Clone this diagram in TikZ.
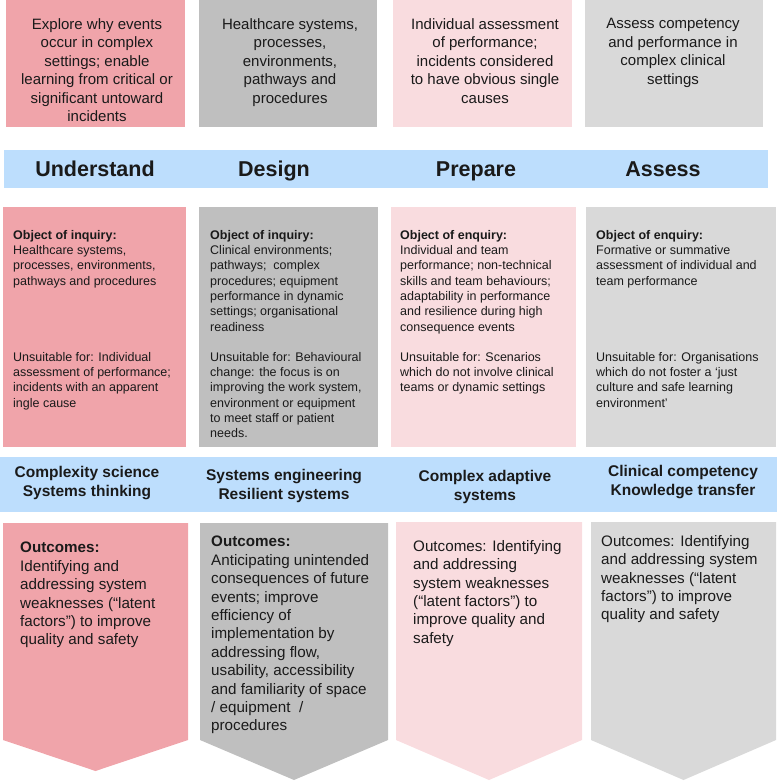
\documentclass[tikz,border=0pt]{standalone}
\usepackage{fontspec}
\setmainfont{Liberation Sans}
\definecolor{pinkD}{HTML}{F0A4AA}
\definecolor{grayD}{HTML}{BFBFBF}
\definecolor{pinkL}{HTML}{F9DCDF}
\definecolor{grayL}{HTML}{D9D9D9}
\definecolor{bandblue}{HTML}{BDDEFD}
\definecolor{txt}{HTML}{1A1A1A}
\begin{document}
\begin{tikzpicture}[x=1pt,y=-1pt,
  panel/.style={draw=none, inner sep=0, outer sep=0, anchor=north west},
  toptext/.style={anchor=north, inner sep=0, align=center, text=txt, font=\fontsize{15}{18.5}\selectfont},
  headtext/.style={anchor=base, inner sep=0, text=txt, font=\fontsize{21.5}{24}\selectfont\bfseries},
  bandtext/.style={anchor=north, inner sep=0, align=center, text=txt, font=\fontsize{15.5}{19}\selectfont\bfseries},
  midtext/.style={anchor=north west, inner sep=0, align=left, text=txt, font=\fontsize{12.5}{15.3}\selectfont},
  outtext/.style={anchor=north west, inner sep=0, align=left, text=txt, font=\fontsize{15.2}{18.4}\selectfont}
]
\useasboundingbox (0,0) rectangle (777,783);

% top boxes
\node[panel, fill=pinkD, minimum width=179pt, minimum height=127pt] (t1) at (6,0) {};
\node[panel, fill=grayD, minimum width=178pt, minimum height=127pt] (t2) at (199,0) {};
\node[panel, fill=pinkL, minimum width=179pt, minimum height=127pt] (t3) at (393,0) {};
\node[panel, fill=grayL, minimum width=178pt, minimum height=127pt] (t4) at (585,0) {};

\node[toptext] (tt1) at (97,18) {Explore why events\\occur in complex\\settings; enable\\learning from critical or\\significant untoward\\incidents};
\node[toptext] (tt2) at (290,18) {Healthcare systems,\\processes,\\environments,\\pathways and\\procedures};
\node[toptext] (tt3) at (485,18) {Individual assessment\\of performance;\\incidents considered\\to have obvious single\\causes};
\node[toptext] (tt4) at (673,18) {Assess competency\\and performance in\\complex clinical\\settings};

% band 1
\node[panel, fill=bandblue, minimum width=764pt, minimum height=38pt] (band1) at (4,150) {};
\node[headtext] (h1) at (95,177) {Understand};
\node[headtext] (h2) at (274,177) {Design};
\node[headtext] (h3) at (476,177) {Prepare};
\node[headtext] (h4) at (663,177) {Assess};

% middle boxes
\node[panel, fill=pinkD, minimum width=183pt, minimum height=240pt] (m1) at (3,207) {};
\node[panel, fill=grayD, minimum width=179pt, minimum height=240pt] (m2) at (199,207) {};
\node[panel, fill=pinkL, minimum width=185pt, minimum height=240pt] (m3) at (391,207) {};
\node[panel, fill=grayL, minimum width=190pt, minimum height=240pt] (m4) at (586,207) {};

\node[midtext] (o1) at (13,230) {{\bfseries Object of inquiry:}\\Healthcare systems,\\processes, environments,\\pathways and procedures};
\node[midtext] (u1) at (13,352) {Unsuitable for: Individual\\assessment of performance;\\incidents with an apparent\\ingle cause};
\node[midtext] (o2) at (210,230) {{\bfseries Object of inquiry:}\\Clinical environments;\\pathways;\ \ complex\\procedures; equipment\\performance in dynamic\\settings; organisational\\readiness};
\node[midtext] (u2) at (210,352) {Unsuitable for: Behavioural\\change: the focus is on\\improving the work system,\\environment or equipment\\to meet staff or patient\\needs.};
\node[midtext] (o3) at (400,230) {{\bfseries Object of enquiry:}\\Individual and team\\performance; non-technical\\skills and team behaviours;\\adaptability in performance\\and resilience during high\\consequence events};
\node[midtext] (u3) at (400,352) {Unsuitable for: Scenarios\\which do not involve clinical\\teams or dynamic settings};
\node[midtext] (o4) at (596,230) {{\bfseries Object of enquiry:}\\Formative or summative\\assessment of individual and\\team performance};
\node[midtext] (u4) at (596,352) {Unsuitable for: Organisations\\which do not foster a ‘just\\culture and safe learning\\environment’};

% band 2
\node[panel, fill=bandblue, minimum width=777pt, minimum height=55pt] (band2) at (0,457) {};
\node[bandtext] (b1) at (87,466) {Complexity science\\Systems thinking};
\node[bandtext] (b2) at (284,469) {Systems engineering\\Resilient systems};
\node[bandtext] (b3) at (485,470) {Complex adaptive\\systems};
\node[bandtext] (b4) at (683,465) {Clinical competency\\Knowledge transfer};

% outcome arrows
\fill[pinkD] (3,523) -- (188,523) -- (188,740) -- (95.5,771) -- (3,740) -- cycle;
\fill[grayD] (200,523) -- (388,523) -- (388,740) -- (294,780) -- (200,740) -- cycle;
\fill[pinkL] (396,522) -- (582,522) -- (582,740) -- (489,780) -- (396,740) -- cycle;
\fill[grayL] (591,522) -- (776,522) -- (776,740) -- (683.5,780) -- (591,740) -- cycle;

\node[outtext] (oc1) at (20,542) {{\bfseries Outcomes:}\\Identifying and\\addressing system\\weaknesses (“latent\\factors”) to improve\\quality and safety};
\node[outtext] (oc2) at (211,536) {{\bfseries Outcomes:}\\Anticipating unintended\\consequences of future\\events; improve\\efficiency of\\implementation by\\addressing flow,\\usability, accessibility\\and familiarity of space\\/ equipment \ /\\procedures};
\node[outtext] (oc3) at (413,540) {Outcomes: Identifying\\and addressing\\system weaknesses\\(“latent factors”) to\\improve quality and\\safety};
\node[outtext] (oc4) at (601,535) {Outcomes: Identifying\\and addressing system\\weaknesses (“latent\\factors”) to improve\\quality and safety};
\end{tikzpicture}
\end{document}
